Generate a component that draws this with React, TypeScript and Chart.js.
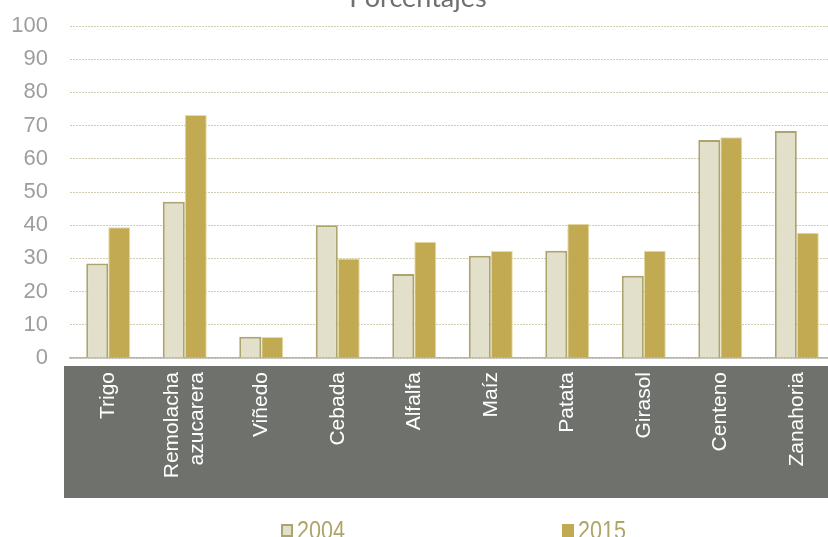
import React, { useEffect, useRef } from 'react';
import { Chart, registerables } from 'chart.js';

Chart.register(...registerables);

const categories: (string | string[])[] = [
  'Trigo',
  ['Remolacha', 'azucarera'],
  'Viñedo',
  'Cebada',
  'Alfalfa',
  'Maíz',
  'Patata',
  'Girasol',
  'Centeno',
  'Zanahoria',
];
const seriesLabels = ['2004', '2015'];
const values2004 = [28.5, 47.1, 6.4, 40.0, 25.3, 30.8, 32.3, 24.8, 65.7, 68.4];
const values2015 = [39.4, 73.2, 6.3, 30.0, 35.0, 32.2, 40.4, 32.3, 66.5, 37.7];
const chartTitle = 'Porcentajes';

export default function App() {
  const ref = useRef<HTMLCanvasElement>(null);

  useEffect(() => {
    document.body.style.margin = '0';
    document.body.style.overflow = 'hidden';
    const canvas = ref.current;
    if (!canvas) return;

    const decorPlugin = {
      id: 'decor',
      beforeDraw(chart: any) {
        const { ctx, chartArea } = chart;
        ctx.save();
        ctx.fillStyle = '#6e716c';
        ctx.fillRect(chartArea.left - 6, chartArea.bottom + 8, chart.width, 132);
        ctx.restore();
        // centre multi-line category labels on their tick
        const xs = chart.scales.x;
        const items = xs.getLabelItems(chartArea);
        items.forEach((it: any) => {
          if (Array.isArray(it.label) && it.label.length > 1) {
            const lh = 21 * 1.2;
            const shift = (lh * (it.label.length - 1)) / 2;
            it.options.translation = [it.options.translation[0] - shift, it.options.translation[1]];
          }
        });
      },
      afterDraw(chart: any) {
        const { ctx } = chart;
        ctx.save();
        // title (partly cut at the top)
        ctx.fillStyle = '#6f716d';
        ctx.font = '27px Lato, "Open Sans", sans-serif';
        ctx.textAlign = 'center';
        ctx.textBaseline = 'alphabetic';
        ctx.fillText(chartTitle, 418, 7);
        // legend
        const xs = [281, 562];
        chart.data.datasets.forEach((ds: any, i: number) => {
          const x = xs[i];
          ctx.fillStyle = ds.backgroundColor;
          ctx.fillRect(x, 524, 12, 13);
          if (i === 0) {
            ctx.strokeStyle = ds.borderColor;
            ctx.lineWidth = 2;
            ctx.strokeRect(x + 1, 525, 10, 11);
          }
          ctx.save();
          ctx.translate(x + 16, 538.5);
          ctx.scale(0.83, 1);
          ctx.fillStyle = '#b0a568';
          ctx.font = '26px "Liberation Sans", Arial, sans-serif';
          ctx.textAlign = 'left';
          ctx.fillText(ds.label, 0, 0);
          ctx.restore();
        });
        ctx.restore();
      },
    };

    const chart = new Chart(canvas, {
      type: 'bar',
      data: {
        labels: categories,
        datasets: [
          {
            label: seriesLabels[0],
            data: values2004,
            backgroundColor: '#e2dfca',
            borderColor: '#aba46f',
            borderWidth: 2,
            barPercentage: 1,
            categoryPercentage: 0.575,
          },
          {
            label: seriesLabels[1],
            data: values2015,
            backgroundColor: '#c1aa51',
            borderColor: '#e6dca4',
            borderWidth: 1,
            barPercentage: 1,
            categoryPercentage: 0.575,
          },
        ],
      },
      options: {
        responsive: false,
        animation: false,
        devicePixelRatio: 1,
        layout: { padding: { top: 26, left: 0, right: 0, bottom: 0 } },
        plugins: {
          legend: { display: false },
          tooltip: { enabled: false },
          title: { display: false },
        },
        scales: {
          x: {
            grid: { display: false, drawTicks: false },
            border: { display: true, color: '#b4b4b4', width: 1.5 },
            ticks: {
              color: '#ffffff',
              font: { family: '"Liberation Sans", Arial, sans-serif', size: 21, lineHeight: 1.2 },
              maxRotation: 90,
              minRotation: 90,
              padding: 14,
              autoSkip: false,
            },
            afterFit(scale: any) {
              scale.height = 537 - 358;
            },
          },
          y: {
            min: 0,
            max: 100,
            grid: { color: '#d2cdb0', lineWidth: 1, drawTicks: false },
            border: { display: false, dash: [2, 1] },
            ticks: {
              stepSize: 10,
              color: '#9e9e9e',
              font: { family: '"Liberation Sans", Arial, sans-serif', size: 22 },
              padding: 22,
            },
            afterFit(scale: any) {
              scale.width = 70;
              scale.paddingTop = 0;
              scale.paddingBottom = 0;
            },
          },
        },
      },
      plugins: [decorPlugin],
    } as any);

    return () => chart.destroy();
  }, []);

  return (
    <div
      style={{
        position: 'fixed',
        left: 0,
        top: 0,
        width: 828,
        height: 537,
        overflow: 'hidden',
        background: '#ffffff',
      }}
    >
      <canvas ref={ref} width={836} height={537} style={{ width: 836, height: 537, display: 'block' }} />
    </div>
  );
}
